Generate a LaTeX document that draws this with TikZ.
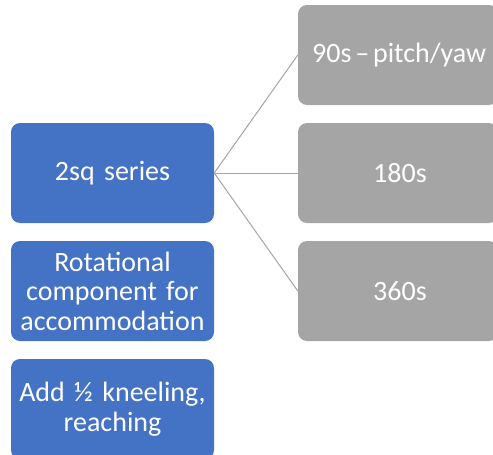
\documentclass[tikz,border=0pt]{standalone}
\usepackage{fontspec}
\setmainfont[WordSpace=0.6]{Carlito}
\definecolor{boxblue}{HTML}{4472C4}
\definecolor{boxgray}{HTML}{A5A5A5}
\begin{document}
\begin{tikzpicture}[x=1pt,y=-1pt,
  txt/.style={font=\fontsize{28}{29.5}\selectfont,text=white,inner sep=0pt},
  bluebox/.style={txt,fill=boxblue,draw=none,rounded corners=9pt,minimum width=203pt,minimum height=100pt,text width=200pt,align=center},
  graybox/.style={fill=boxgray,draw=none,rounded corners=9pt,minimum width=200pt,minimum height=100pt,inner sep=0pt},
  link/.style={draw=boxgray,line width=1pt}]
\useasboundingbox (0,0) rectangle (493,455);
\clip (0,0) rectangle (493,455);
\node[bluebox] (s) at (112.5,173) {2sq series};
\node[bluebox] (r) at (112.5,291) {Rotational\\component for\\accommodation};
\node[bluebox] (k) at (112.5,409) {Add ½ kneeling,\\reaching};
\node[graybox] (a) at (398,55) {};
\node[graybox] (b) at (398,173) {};
\node[graybox] (c) at (398,291) {};
\node[txt,anchor=west] (at) at (312,55) {90s – pitch/yaw};
\node[txt] (bt) at (400,173) {180s};
\node[txt] (ct) at (400,291) {360s};
\draw[link] (s.east) -- (a.west);
\draw[link] (s.east) -- (b.west);
\draw[link] (s.east) -- (c.west);
\end{tikzpicture}
\end{document}
